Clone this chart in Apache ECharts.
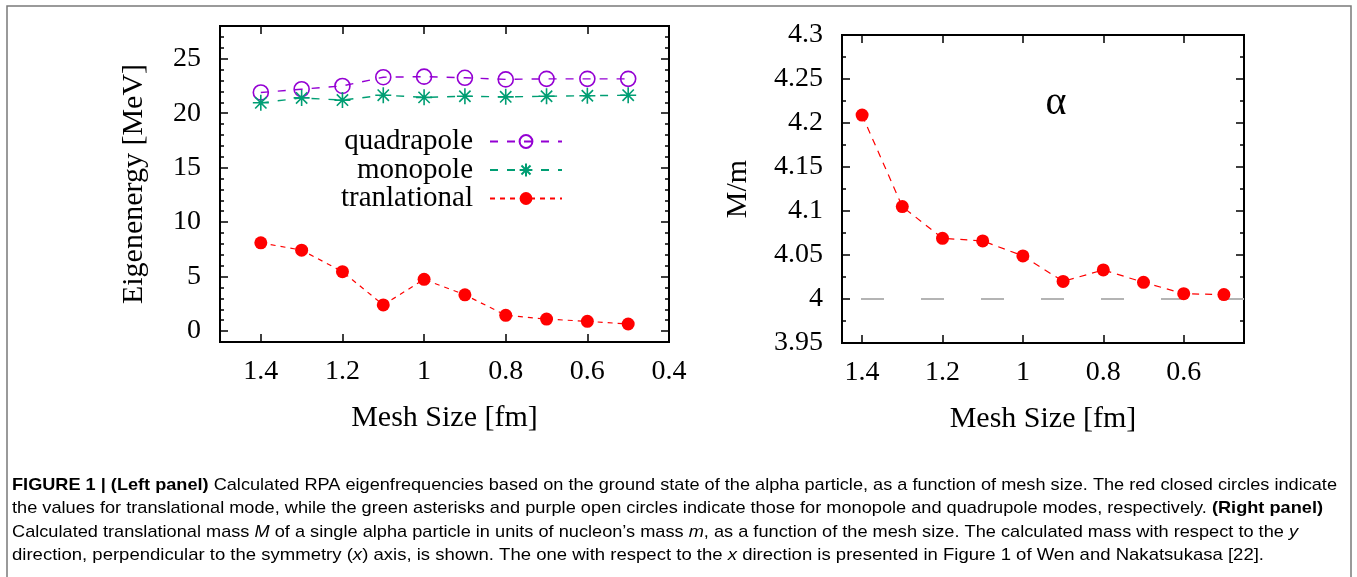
<!DOCTYPE html>
<html>
<head>
<meta charset="utf-8">
<style>
html,body{margin:0;padding:0;background:#fff;}
#chart{width:1357px;height:577px;}
</style>
<script src="https://cdn.jsdelivr.net/npm/echarts@6/dist/echarts.min.js"></script>
</head>
<body>
<div id="chart"></div>
<script>
// ---- data ----
const meshSizes = [1.4, 1.3, 1.2, 1.1, 1.0, 0.9, 0.8, 0.7, 0.6, 0.5];
const quadrapole = [21.9, 22.2, 22.5, 23.3, 23.35, 23.25, 23.1, 23.15, 23.15, 23.15];
const monopole = [20.95, 21.4, 21.2, 21.65, 21.45, 21.55, 21.5, 21.55, 21.6, 21.65];
const translational = [8.1, 7.43, 5.45, 2.4, 4.75, 3.33, 1.45, 1.1, 0.9, 0.65];
const massRatio = [4.209, 4.105, 4.069, 4.066, 4.049, 4.020, 4.033, 4.019, 4.006, 4.005];
const refMass = 4;
const seriesNames = ['quadrapole', 'monopole', 'tranlational'];
const captionLines = [
  [{s:'b', t:'FIGURE 1 | (Left panel)'}, {s:'n', t:' Calculated RPA eigenfrequencies based on the ground state of the alpha particle, as a function of mesh size. The red closed circles indicate'}],
  [{s:'n', t:'the values for translational mode, while the green asterisks and purple open circles indicate those for monopole and quadrupole modes, respectively. '}, {s:'b', t:'(Right panel)'}],
  [{s:'n', t:'Calculated translational mass '}, {s:'i', t:'M'}, {s:'n', t:' of a single alpha particle in units of nucleon\u2019s mass '}, {s:'i', t:'m'}, {s:'n', t:', as a function of the mesh size. The calculated mass with respect to the '}, {s:'i', t:'y'}],
  [{s:'n', t:'direction, perpendicular to the symmetry ('}, {s:'i', t:'x'}, {s:'n', t:') axis, is shown. The one with respect to the '}, {s:'i', t:'x'}, {s:'n', t:' direction is presented in Figure 1 of Wen and Nakatsukasa '}, {s:'l', t:'[22]'}, {s:'n', t:'.'}]
];
const captionWidths = [1325, 1311, 1286, 1252];

// ---- helpers ----
const pairs = (ys) => meshSizes.map((x, i) => [x, ys[i]]);
const SERIF = '"Liberation Serif", "DejaVu Serif", serif';
const SANS = '"Liberation Sans", Arial, sans-serif';
const CAP_FS = 17;

function measureLine(segs) {
  const ctx = document.createElement('canvas').getContext('2d');
  let w = 0;
  segs.forEach(sg => {
    ctx.font = (sg.s === 'i' ? 'italic ' : '') + (sg.s === 'b' ? 'bold ' : '') + CAP_FS + 'px ' + SANS;
    w += ctx.measureText(sg.t).width;
  });
  return w;
}
const richStyles = {
  n: {fontFamily: SANS, fontSize: CAP_FS, color: '#3a3a3a'},
  b: {fontFamily: SANS, fontSize: CAP_FS, color: '#222', fontWeight: 'bold'},
  i: {fontFamily: SANS, fontSize: CAP_FS, color: '#3a3a3a', fontStyle: 'italic'},
  l: {fontFamily: SANS, fontSize: CAP_FS, color: '#8796b4'}
};
const captionGraphics = captionLines.map((segs, k) => ({
  type: 'text',
  x: 12,
  y: 485 + k * 23.5,
  scaleX: captionWidths[k] / measureLine(segs),
  style: {
    text: segs.map(sg => '{' + sg.s + '|' + sg.t + '}').join(''),
    rich: richStyles,
    verticalAlign: 'middle',
    align: 'left'
  }
}));

function xAx(grid, pos, opts) {
  return Object.assign({
    type: 'value', gridIndex: grid, position: pos, inverse: true,
    axisLine: {show: false, onZero: false},
    axisTick: {show: true, inside: true, length: 8, lineStyle: {color: '#000', width: 1.5}},
    splitLine: {show: false},
    axisLabel: {show: pos === 'bottom', margin: 16, color: '#000', fontFamily: SERIF, fontSize: 28, showMaxLabel: false},
    nameTextStyle: {color: '#000', fontFamily: SERIF, fontSize: 30}
  }, opts);
}
function yAx(grid, pos, opts) {
  return Object.assign({
    type: 'value', gridIndex: grid, position: pos,
    axisLine: {show: false, onZero: false},
    axisTick: {show: true, inside: true, length: 8, lineStyle: {color: '#000', width: 1.5}},
    minorTick: {show: true, length: 4, lineStyle: {color: '#000', width: 1.5}},
    splitLine: {show: false},
    axisLabel: {show: pos === 'left', margin: 19, color: '#000', fontFamily: SERIF, fontSize: 28},
    nameTextStyle: {color: '#000', fontFamily: SERIF, fontSize: 30}
  }, opts);
}

const legendBase = (name, top, right) => ({
  data: [name], orient: 'vertical', align: 'right', right: right, top: top,
  itemWidth: 72, itemHeight: 16, itemGap: 0, padding: 0, selectedMode: false,
  textStyle: {fontFamily: SERIF, fontSize: 29, color: '#000', lineHeight: 29, padding: [0, 12, 0, 0]}
});

const chart = echarts.init(document.getElementById('chart'), null, {renderer: 'canvas'});
chart.setOption({
  animation: false,
  backgroundColor: '#fff',
  grid: [
    {left: 220, top: 26, width: 449, height: 316, show: true, borderColor: '#000', borderWidth: 2, backgroundColor: 'transparent'},
    {left: 842, top: 35, width: 402, height: 308, show: true, borderColor: '#000', borderWidth: 2, backgroundColor: 'transparent'}
  ],
  xAxis: [
    xAx(0, 'bottom', {min: 0.4, max: 1.5, interval: 0.2, name: 'Mesh Size [fm]', nameLocation: 'middle', nameGap: 61}),
    xAx(0, 'top', {min: 0.4, max: 1.5, interval: 0.2}),
    xAx(1, 'bottom', {min: 0.45, max: 1.45, splitNumber: 5, name: 'Mesh Size [fm]', nameLocation: 'middle', nameGap: 61,
      axisLabel: {show: true, margin: 16, color: '#000', fontFamily: SERIF, fontSize: 28, showMaxLabel: false, showMinLabel: false}}),
    xAx(1, 'top', {min: 0.45, max: 1.45, splitNumber: 5})
  ],
  yAxis: [
    yAx(0, 'left', {min: -1, max: 28, splitNumber: 5, minorTick: {show: true, splitNumber: 5, length: 4, lineStyle: {color: '#000', width: 1.5}},
      name: 'Eigenenergy [MeV]', nameLocation: 'middle', nameGap: 71,
      axisLabel: {show: true, margin: 19, color: '#000', fontFamily: SERIF, fontSize: 28, showMinLabel: false, showMaxLabel: false}}),
    yAx(0, 'right', {min: -1, max: 28, splitNumber: 5, minorTick: {show: true, splitNumber: 5, length: 4, lineStyle: {color: '#000', width: 1.5}}}),
    yAx(1, 'left', {min: 3.95, max: 4.3, interval: 0.05, minorTick: {show: true, splitNumber: 2, length: 4, lineStyle: {color: '#000', width: 1.5}},
      name: 'M/m', nameLocation: 'middle', nameGap: 89}),
    yAx(1, 'right', {min: 3.95, max: 4.3, interval: 0.05, minorTick: {show: true, splitNumber: 2, length: 4, lineStyle: {color: '#000', width: 1.5}}})
  ],
  legend: [
    legendBase(seriesNames[0], 127, 794),
    legendBase(seriesNames[1], 155.5, 794),
    legendBase(seriesNames[2], 184, 794)
  ],
  series: [
    {
      name: seriesNames[0], type: 'line', xAxisIndex: 0, yAxisIndex: 0, data: pairs(quadrapole),
      symbol: 'circle', symbolSize: 15,
      itemStyle: {color: 'rgba(148,0,211,0)', borderColor: '#9400d3', borderWidth: 1.6},
      lineStyle: {color: '#9400d3', width: 1.4, type: [8, 9]}, z: 3
    },
    {
      name: seriesNames[1], type: 'line', xAxisIndex: 0, yAxisIndex: 0, data: pairs(monopole),
      symbol: 'path://M0,-10L0,10M-10,0L10,0M-7.07,-7.07L7.07,7.07M-7.07,7.07L7.07,-7.07', symbolSize: 16,
      itemStyle: {color: 'rgba(0,158,115,0)', borderColor: '#009e73', borderWidth: 1.6},
      lineStyle: {color: '#009e73', width: 1.4, type: [8, 9]}, z: 3
    },
    {
      name: seriesNames[2], type: 'line', xAxisIndex: 0, yAxisIndex: 0, data: pairs(translational),
      symbol: 'circle', symbolSize: 13,
      itemStyle: {color: '#ff0000'},
      lineStyle: {color: '#ff0000', width: 1.2, type: [5, 5]}, z: 3
    },
    {
      name: 'alpha mass', type: 'line', xAxisIndex: 2, yAxisIndex: 2, data: pairs(massRatio),
      symbol: 'circle', symbolSize: 13,
      itemStyle: {color: '#ff0000'},
      lineStyle: {color: '#ff0000', width: 1.2, type: [7, 6]}, z: 3,
      markLine: {
        silent: true, symbol: 'none', z: 1,
        label: {show: false},
        lineStyle: {color: '#b4b4b4', width: 2, type: [23, 37]},
        data: [{yAxis: refMass}]
      }
    }
  ],
  graphic: [
    {type: 'rect', shape: {x: 7, y: 6, width: 1344, height: 620}, style: {fill: 'none', stroke: '#7a7a7a', lineWidth: 1.5}, silent: true},
    {type: 'text', x: 1056, y: 103, style: {text: '\u03b1', fontFamily: SERIF, fontSize: 40, fill: '#000', align: 'center', verticalAlign: 'middle'}},
    ...captionGraphics
  ]
});
</script>
</body>
</html>
